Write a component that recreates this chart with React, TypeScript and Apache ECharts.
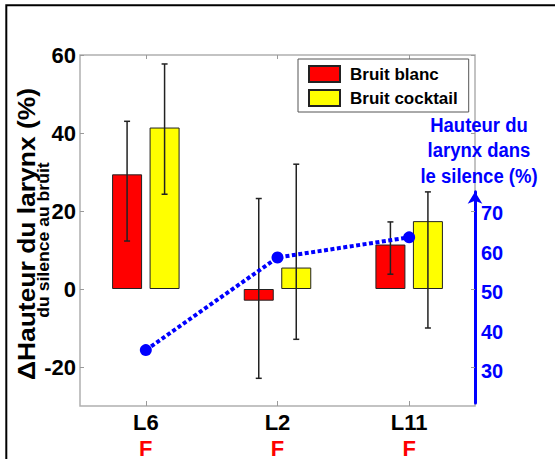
import { useEffect, useRef } from "react";
import * as echarts from "echarts";

// Groups along the horizontal axis and the tag printed under each one
const categories = ["L6", "L2", "L11"];
const groupTags = ["F", "F", "F"];

// Change of larynx height from silence to noise (%), with error-bar ends
const whiteNoise = [29.4, -3.0, 11.4];
const whiteNoiseLow = [12.3, -22.9, 3.8];
const whiteNoiseHigh = [43.0, 23.2, 17.2];

const cocktailNoise = [41.4, 5.5, 17.4];
const cocktailLow = [24.3, -12.9, -10.0];
const cocktailHigh = [57.7, 32.0, 24.9];

// Larynx height in silence (%), read on the blue axis
const silenceHeight = [35.4, 58.8, 63.9];

const leftTicks = [-20, 0, 20, 40, 60];
const rightTicks = [30, 40, 50, 60, 70];

const FONT = '"Liberation Sans", Arial, Helvetica, sans-serif';
const BLUE = "#0000ff";

const GRID_LEFT = 80;
const GRID_TOP = 55;
const GRID_W = 395;
const GRID_H = 356;
const LEFT_MIN = -30;
const LEFT_MAX = 60;
// The blue axis shares the left axis scale, shifted so that 50 sits on 0
const RIGHT_SHIFT = 50;
const RIGHT_MIN = 22;
const RIGHT_MAX = 75.4;
const PX_PER_UNIT = GRID_H / (LEFT_MAX - LEFT_MIN);
const RIGHT_TOP = GRID_TOP + (LEFT_MAX + RIGHT_SHIFT - RIGHT_MAX) * PX_PER_UNIT;
const RIGHT_H = (RIGHT_MAX - RIGHT_MIN) * PX_PER_UNIT;

const BAR_WIDTH = 30;
const BAR_GAP = "25%";
const CAP = 3;

function errorSeries(slot: number, low: number[], high: number[]) {
  return {
    type: "custom",
    xAxisIndex: 0,
    yAxisIndex: 0,
    z: 5,
    silent: true,
    data: categories.map((_, i) => [i, low[i], high[i]]),
    encode: { x: 0, y: [1, 2] },
    renderItem: (_params: any, api: any) => {
      let offset = (slot === 0 ? -1 : 1) * (BAR_WIDTH * 1.25) / 2;
      if (api.barLayout) {
        const layout = api.barLayout({ barWidth: BAR_WIDTH, barGap: BAR_GAP, count: 2 });
        if (layout && layout[slot]) offset = layout[slot].offsetCenter;
      }
      const lo = api.coord([api.value(0), api.value(1)]);
      const hi = api.coord([api.value(0), api.value(2)]);
      const x = lo[0] + offset;
      const style = { stroke: "#222", lineWidth: 1.5 };
      return {
        type: "group",
        children: [
          { type: "line", shape: { x1: x, y1: hi[1], x2: x, y2: lo[1] }, style },
          { type: "line", shape: { x1: x - CAP, y1: hi[1], x2: x + CAP, y2: hi[1] }, style },
          { type: "line", shape: { x1: x - CAP, y1: lo[1], x2: x + CAP, y2: lo[1] }, style },
        ],
      };
    },
  };
}

export default function App() {
  const ref = useRef<HTMLDivElement>(null);

  useEffect(() => {
    if (!ref.current) return;
    const chart = echarts.init(ref.current, undefined, { renderer: "svg" });

    const tickStyle = { color: "#9a9a9a", width: 1 };

    chart.setOption({
      animation: false,
      backgroundColor: "#ffffff",
      textStyle: { fontFamily: FONT },
      grid: [
        {
          left: GRID_LEFT,
          top: GRID_TOP,
          width: GRID_W,
          height: GRID_H,
          show: true,
          borderColor: "#b0b0b0",
          borderWidth: 1.5,
          backgroundColor: "#ffffff",
        },
        { left: GRID_LEFT, top: RIGHT_TOP, width: GRID_W, height: RIGHT_H, show: false },
      ],
      xAxis: [
        {
          type: "category",
          gridIndex: 0,
          data: categories,
          position: "bottom",
          axisLine: { show: false, onZero: false },
          axisTick: { show: true, inside: true, alignWithLabel: true, length: 5, lineStyle: tickStyle },
          axisLabel: {
            margin: 5,
            formatter: (v: string, i: number) => `{a|${v}}\n{b|${groupTags[i]}}`,
            rich: {
              a: { fontSize: 22, fontWeight: "bold", color: "#000", lineHeight: 23, fontFamily: FONT },
              b: { fontSize: 22, fontWeight: "bold", color: "#ff0000", lineHeight: 28, fontFamily: FONT },
            },
          },
          splitLine: { show: false },
        },
        {
          type: "category",
          gridIndex: 0,
          data: categories,
          position: "top",
          axisLine: { show: false, onZero: false },
          axisTick: { show: true, inside: true, alignWithLabel: true, length: 4, lineStyle: tickStyle },
          axisLabel: { show: false },
          splitLine: { show: false },
        },
        { type: "category", gridIndex: 1, data: categories, show: false },
      ],
      yAxis: [
        {
          type: "value",
          gridIndex: 0,
          min: LEFT_MIN,
          max: LEFT_MAX,
          position: "left",
          splitLine: { show: false },
          axisLine: { show: false },
          axisTick: { show: true, inside: true, length: 4, customValues: leftTicks, lineStyle: tickStyle },
          axisLabel: {
            customValues: leftTicks,
            fontSize: 22,
            fontWeight: "bold",
            color: "#000",
            margin: 4,
            fontFamily: FONT,
          },
        },
        {
          type: "value",
          gridIndex: 0,
          min: LEFT_MIN,
          max: LEFT_MAX,
          position: "right",
          splitLine: { show: false },
          axisLine: { show: false },
          axisTick: { show: true, inside: true, length: 4, customValues: leftTicks, lineStyle: tickStyle },
          axisLabel: { show: false },
        },
        {
          type: "value",
          gridIndex: 1,
          min: RIGHT_MIN,
          max: RIGHT_MAX,
          position: "right",
          splitLine: { show: false },
          axisLine: {
            show: true,
            onZero: false,
            lineStyle: { color: BLUE, width: 3 },
            symbol: ["none", "arrow"],
            symbolSize: [11, 12],
          },
          axisTick: { show: false },
          axisLabel: {
            customValues: rightTicks,
            color: BLUE,
            fontSize: 20,
            fontWeight: "bold",
            margin: 6,
            fontFamily: FONT,
          },
        },
      ],
      legend: {
        data: ["Bruit blanc", "Bruit cocktail"],
        orient: "vertical",
        left: 298,
        top: 59,
        padding: [6, 11, 5, 10],
        itemGap: 6,
        itemWidth: 31,
        itemHeight: 16,
        icon: "rect",
        backgroundColor: "#ffffff",
        borderColor: "#555",
        borderWidth: 1,
        borderRadius: 0,
        textStyle: { fontSize: 17, fontWeight: "bold", color: "#000", fontFamily: FONT, padding: [0, 0, 0, 5] },
      },
      series: [
        {
          name: "Bruit blanc",
          type: "bar",
          xAxisIndex: 0,
          yAxisIndex: 0,
          data: whiteNoise,
          barWidth: BAR_WIDTH,
          barGap: BAR_GAP,
          itemStyle: { color: "#ff0000", borderColor: "#222", borderWidth: 1 },
        },
        {
          name: "Bruit cocktail",
          type: "bar",
          xAxisIndex: 0,
          yAxisIndex: 0,
          data: cocktailNoise,
          barWidth: BAR_WIDTH,
          barGap: BAR_GAP,
          itemStyle: { color: "#ffff00", borderColor: "#222", borderWidth: 1 },
        },
        errorSeries(0, whiteNoiseLow, whiteNoiseHigh),
        errorSeries(1, cocktailLow, cocktailHigh),
        {
          name: "Hauteur du larynx dans le silence",
          type: "line",
          xAxisIndex: 2,
          yAxisIndex: 2,
          data: silenceHeight,
          symbol: "circle",
          symbolSize: 12,
          z: 10,
          lineStyle: { color: BLUE, width: 4, type: [4, 2.5] },
          itemStyle: { color: BLUE },
        },
      ],
      graphic: [
        {
          type: "polyline",
          silent: true,
          shape: { points: [[6.3, 459], [6.3, 5.3], [555, 5.3]] },
          style: { stroke: "#000", lineWidth: 2, fill: "none" },
        },
        {
          type: "text",
          x: 27,
          y: 234,
          rotation: Math.PI / 2,
          scaleX: 1.15,
          style: {
            text: "\u0394Hauteur du larynx (%)",
            font: `bold 23px ${FONT}`,
            fill: "#000",
            align: "center",
            verticalAlign: "middle",
          },
        },
        {
          type: "text",
          x: 44,
          y: 240,
          rotation: Math.PI / 2,
          scaleX: 1.1,
          style: {
            text: "du silence au bruit",
            font: `bold 16px ${FONT}`,
            fill: "#000",
            align: "center",
            verticalAlign: "middle",
          },
        },
        {
          type: "text",
          x: 479,
          y: 150,
          scaleY: 1.1,
          style: {
            text: "Hauteur du\nlarynx dans\nle silence (%)",
            font: `bold 18.5px ${FONT}`,
            fill: BLUE,
            align: "center",
            verticalAlign: "middle",
            lineHeight: 23,
          },
        },
      ],
    });

    return () => chart.dispose();
  }, []);

  return (
    <div
      ref={ref}
      style={{ position: "fixed", left: 0, top: 0, width: 555, height: 459, background: "#fff" }}
    />
  );
}
